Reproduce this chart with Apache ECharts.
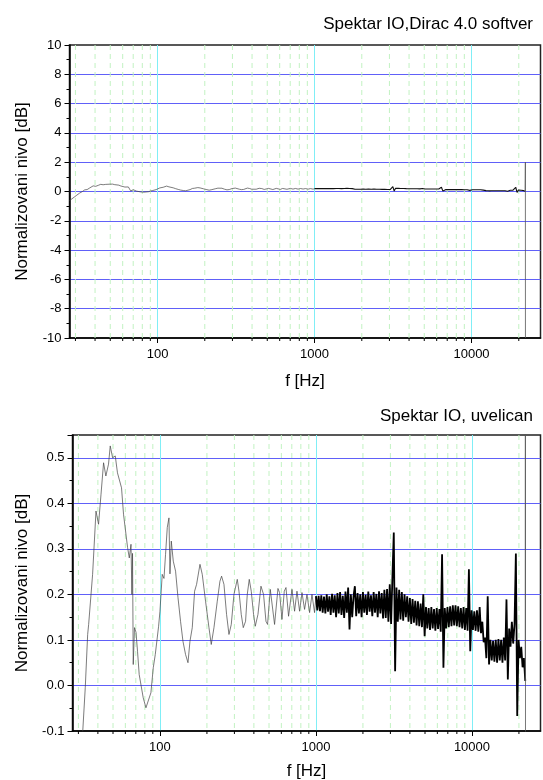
<!DOCTYPE html>
<html>
<head>
<meta charset="utf-8">
<script src="https://cdn.jsdelivr.net/npm/echarts@6/dist/echarts.min.js"></script>
<style>
html, body { margin: 0; padding: 0; background: #fff; }
#main { width: 543px; height: 780px; }
</style>
</head>
<body>
<div id="main"></div>
<script>
// frekvencija [Hz], nivo [dB] - ocitano sa slike
var bassResponse = [
  [27.5,-0.62],[28.5,-0.5],[29.5,-0.38],[30.6,-0.25],[31.9,-0.108],[33.2,-0.005],[34.4,0.112],[34.9,0.134],
  [35.6,0.13],[37.0,0.244],[38.9,0.383],[40.4,0.354],[41.9,0.42],[43.5,0.489],[45.0,0.46],[46.8,0.486],
  [48.0,0.526],[49.7,0.5],[51.7,0.504],[53.4,0.467],[54.8,0.47],[56.7,0.434],[58.4,0.376],[59.7,0.38],
  [62.0,0.303],[63.6,0.28],[65.2,0.31],[66.1,0.2],[66.7,0.29],[67.4,0.046],[68.7,0.127],[70.2,0.117],
  [71.8,0.075],[73.6,0.024],[75.5,0.026],[78.1,-0.027],[81.3,-0.049],[83.7,-0.045],[87.5,-0.016],
  [90.6,0.039],[93.3,0.068],[95.7,0.07],[98,0.13]
];
var midResponse = [
  [100,0.163],[103.4,0.244],[106.1,0.235],[108.6,0.288],[111.4,0.347],[114.2,0.368],[115.9,0.245],
  [118.2,0.317],[121.7,0.273],[125.9,0.251],[130.5,0.193],[135.5,0.141],[140.4,0.097],[145.9,0.068],
  [151.2,0.05],[155.7,0.097],[161.1,0.127],[166.7,0.207],[171.7,0.222],[180.5,0.266],[186.7,0.244],
  [196,0.185],[206.1,0.127],[213.2,0.09],[221.9,0.127],[233,0.185],[242.4,0.229],[248.3,0.24],
  [257.2,0.222],[267.3,0.156],[276.9,0.112],[286.5,0.134],[298.1,0.2],[313,0.233],[321,0.207],
  [332,0.156],[342,0.127],[353.8,0.141],[362.8,0.2],[373.6,0.233],[384.8,0.207],[398.1,0.156],
  [408.2,0.13],[424.8,0.156],[444,0.218],[461.4,0.2],[478,0.141],[489.5,0.134],[509.5,0.211],
  [522.4,0.207],[542.8,0.134],[570.7,0.213],[584.4,0.204],[605.5,0.145],[626.4,0.207],[642.3,0.215],
  [667.4,0.152],[702,0.211],[729.3,0.163],[755.6,0.207],[785.2,0.163],[813.6,0.204],[845.3,0.167],
  [875.8,0.2],[910.1,0.16],[942.8,0.2],[979.5,0.16]
];
var noiseBand = [
  [1000,0.196],[1020,0.165],[1040,0.197],[1061,0.163],[1082,0.198],[1104,0.16],[1126,0.195],[1149,0.158],
  [1172,0.2],[1195,0.162],[1219,0.196],[1243,0.155],[1268,0.201],[1294,0.16],[1319,0.198],[1346,0.15],
  [1373,0.203],[1400,0.158],[1428,0.205],[1457,0.155],[1486,0.197],[1516,0.148],[1546,0.206],[1577,0.16],
  [1608,0.215],[1641,0.123],[1673,0.2],[1707,0.15],[1741,0.196],[1776,0.218],[1811,0.152],[1848,0.203],
  [1885,0.158],[1922,0.2],[1961,0.15],[2000,0.205],[2040,0.16],[2081,0.199],[2122,0.155],[2165,0.206],
  [2208,0.162],[2252,0.198],[2297,0.152],[2343,0.205],[2390,0.16],[2438,0.201],[2487,0.15],[2536,0.207],
  [2587,0.158],[2639,0.203],[2692,0.147],[2745,0.21],[2800,0.148],[2856,0.212],[2913,0.14],[2972,0.222],
  [3031,0.135],[3092,0.24],[3154,0.336],[3217,0.031],[3281,0.215],[3347,0.14],[3414,0.21],[3482,0.145],
  [3551,0.205],[3623,0.142],[3695,0.2],[3769,0.15],[3844,0.196],[3921,0.14],[4000,0.192],[4080,0.135],
  [4161,0.19],[4245,0.138],[4330,0.186],[4416,0.132],[4504,0.185],[4594,0.13],[4686,0.18],[4780,0.128],
  [4876,0.2],[4973,0.108],[5073,0.172],[5174,0.125],[5278,0.17],[5383,0.122],[5491,0.172],[5601,0.125],
  [5713,0.168],[5827,0.12],[5943,0.17],[6062,0.124],[6184,0.168],[6307,0.118],[6433,0.288],[6562,0.039],
  [6693,0.17],[6827,0.125],[6964,0.172],[7103,0.128],[7245,0.174],[7390,0.13],[7538,0.176],[7689,0.132],
  [7842,0.176],[7999,0.13],[8159,0.174],[8323,0.128],[8489,0.17],[8659,0.125],[8832,0.172],[9009,0.122],
  [9189,0.17],[9373,0.12],[9560,0.255],[9751,0.075],[9946,0.165],[10145,0.122],[10348,0.163],[10555,0.12],
  [10766,0.165],[10982,0.118],[11201,0.172],[11425,0.115],[11654,0.14],[11887,0.095],[12125,0.105],[12367,0.06],
  [12615,0.196],[12867,0.046],[13124,0.1],[13387,0.055],[13654,0.098],[13928,0.052],[14206,0.1],[14490,0.05],
  [14780,0.102],[15076,0.055],[15377,0.1],[15685,0.05],[15999,0.105],[16319,0.055],[16645,0.189],[16978,0.013],
  [17317,0.125],[17664,0.085],[18017,0.14],[18377,0.092],[18745,0.135],[19120,0.29],[19502,-0.067],[19892,0.1],
  [20290,0.06],[20696,0.085],[21110,0.04],[21532,0.06],[21963,0.01]
];
var tailResponse = [[21963,0.01],[22030,2.0],[22050,-10]];

var minorFreq = [30,40,50,60,70,80,90,200,300,400,500,600,700,800,900,
                 2000,3000,4000,5000,6000,7000,8000,9000,20000];

var titles = ['Spektar IO,Dirac 4.0 softver', 'Spektar IO, uvelican'];
var yName = 'Normalizovani nivo [dB]';
var xName = 'f [Hz]';

var lowPart = bassResponse.concat(midResponse, [noiseBand[0]]);

var FONT = '"Liberation Sans", Arial, sans-serif';
var chart = echarts.init(document.getElementById('main'));

//sporedna mreza (30,40,...) i kratki podeoci ispod ose
function minorGrid(idx, yMin, yMax) {
  return {
    type: 'custom',
    xAxisIndex: idx,
    yAxisIndex: idx,
    silent: true,
    z: 1,
    clip: false,
    data: minorFreq.map(function (f) { return [f, yMin]; }),
    renderItem: function (params, api) {
      var f = api.value(0);
      var a = api.coord([f, yMax]);
      var b = api.coord([f, yMin]);
      return {
        type: 'group',
        children: [
          { type: 'line', shape: { x1: a[0], y1: a[1], x2: b[0], y2: b[1] },
            style: { stroke: '#c2f2c2', lineWidth: 1, lineDash: [5, 4] } },
          { type: 'line', shape: { x1: b[0], y1: b[1], x2: b[0], y2: b[1] + 3 },
            style: { stroke: '#000', lineWidth: 1 } }
        ]
      };
    }
  };
}

function xAxisCfg(idx, gap) {
  return {
    type: 'log', logBase: 10, gridIndex: idx,
    min: 27.5, max: 27500,
    name: xName, nameLocation: 'middle', nameGap: gap,
    nameTextStyle: { fontFamily: FONT, fontSize: 17, color: '#000' },
    axisLine: { show: true, onZero: false, lineStyle: { color: '#000', width: 1.5 } },
    axisTick: { show: true, inside: false, length: 5, lineStyle: { color: '#000' } },
    axisLabel: {
      fontFamily: FONT, fontSize: 13, color: '#000', margin: 10,
      showMinLabel: false, showMaxLabel: false,
      formatter: function (v) { return String(Math.round(v)); }
    },
    splitLine: { show: true, showMinLine: false, showMaxLine: false,
      lineStyle: { color: '#80eef6', width: 1 } }
  };
}

function yAxisCfg(idx, min, max, step, gap, dec) {
  return {
    type: 'value', gridIndex: idx,
    min: min, max: max, interval: step,
    name: yName, nameLocation: 'middle', nameGap: gap,
    nameTextStyle: { fontFamily: FONT, fontSize: 17, color: '#000' },
    axisLine: { show: true, onZero: false, lineStyle: { color: '#000', width: 1.5 } },
    axisTick: { show: true, inside: false, length: 5, lineStyle: { color: '#000' } },
    minorTick: { show: true, splitNumber: 2, length: 3, lineStyle: { color: '#000' } },
    axisLabel: {
      fontFamily: FONT, fontSize: 13, color: '#000', margin: 8,
      showMaxLabel: max % step === 0,
      formatter: function (v) { return v.toFixed(dec); }
    },
    splitLine: { show: true, showMinLine: false, showMaxLine: false,
      lineStyle: { color: '#6060f8', width: 1 } }
  };
}

function lineSeries(idx, data, color, width) {
  return {
    type: 'line', xAxisIndex: idx, yAxisIndex: idx,
    data: data, showSymbol: false, symbol: 'none',
    sampling: null, clip: true, z: 3,
    lineStyle: { color: color, width: width, join: 'bevel' }
  };
}

var option = {
  animation: false,
  backgroundColor: '#fff',
  title: [
    { text: titles[0], right: 5, top: 11,
      textStyle: { fontFamily: FONT, fontSize: 17, fontWeight: 'normal', color: '#000' } },
    { text: titles[1], right: 5, top: 403,
      textStyle: { fontFamily: FONT, fontSize: 17, fontWeight: 'normal', color: '#000' } }
  ],
  grid: [
    { left: 69.5, top: 45, width: 471, height: 293, show: true,
      borderColor: '#222', borderWidth: 1.5, outerBoundsMode: 'none' },
    { left: 72.5, top: 435, width: 468, height: 296, show: true,
      borderColor: '#222', borderWidth: 1.5, outerBoundsMode: 'none' }
  ],
  xAxis: [xAxisCfg(0, 35), xAxisCfg(1, 32)],
  yAxis: [yAxisCfg(0, -10, 10, 2, 39, 0), yAxisCfg(1, -0.1, 0.55, 0.1, 42, 1)],
  series: [
    minorGrid(0, -10, 10),
    minorGrid(1, -0.1, 0.55),
    lineSeries(0, lowPart, '#444', 0.7),
    lineSeries(0, noiseBand, '#111', 1.1),
    lineSeries(0, tailResponse, '#555', 0.8),
    lineSeries(1, lowPart, '#444', 0.7),
    lineSeries(1, noiseBand, '#000', 1.8),
    lineSeries(1, tailResponse, '#555', 0.8)
  ]
};

chart.setOption(option);
</script>
</body>
</html>
